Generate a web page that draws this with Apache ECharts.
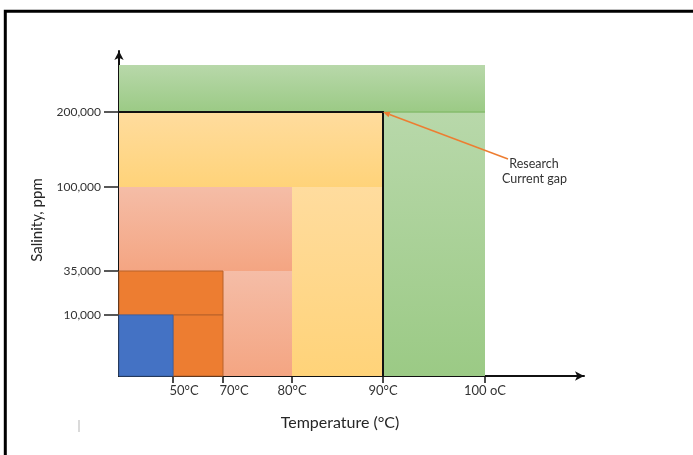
<!DOCTYPE html>
<html><head><meta charset="utf-8">
<script src="https://cdn.jsdelivr.net/npm/echarts@6/dist/echarts.min.js"></script>
<style>html,body{margin:0;padding:0;background:#fff}#c{width:693px;height:455px}</style>
</head><body><div id="c"></div>
<script>
// ---------------- data ----------------
const zoneNames = ['Blue', 'Orange', 'Salmon', 'Yellow', 'Green'];
const zoneMaxTemp = [50, 70, 80, 90, 100];                 // °C
const zoneMaxSalinity = [10000, 35000, 100000, 200000, 300000]; // ppm
const startTemp = 25;
const tempTicks = [50, 70, 80, 90, 100];
const tempTickLabels = ['50°C', '70°C', '80°C', '90°C', '100 oC'];
const salinityTicks = [10000, 35000, 100000, 200000];
const salinityTickLabels = ['10,000', '35,000', '100,000', '200,000'];
const gapPoint = [90, 200000];
const gapLabel = ['Research', 'Current gap'];

// ---------------- schematic (piecewise) axis scale ----------------
const xScaleVal = [startTemp, 50, 70, 80, 90, 100];
const xScaleUnit = [0, 54, 104, 173, 264, 366];
const yScaleVal = [0, 10000, 35000, 100000, 200000, 300000];
const yScaleUnit = [0, 61, 105, 189, 264, 311];
function piece(v, vals, units) {
  for (let i = 0; i < vals.length - 1; i++) {
    if (v <= vals[i + 1] || i === vals.length - 2) {
      const f = (v - vals[i]) / (vals[i + 1] - vals[i]);
      return units[i] + f * (units[i + 1] - units[i]);
    }
  }
}
const xu = v => piece(v, xScaleVal, xScaleUnit);
const yu = v => piece(v, yScaleVal, yScaleUnit);

// ---------------- styles ----------------
const zoneTop = ['#4472c4', '#ed7d31', '#f5bda7', '#ffdc9e', '#b8d8aa'];
const zoneBottom = ['#4472c4', '#ed7d31', '#f4a582', '#ffd379', '#9bca85'];
const zoneStroke = ['#3a62a8', '#b8622a', 'none', 'none', 'none'];

// zone parts: [tStart, tEnd, sStart, sEnd, zoneIndex]
const parts = [];
for (let i = zoneNames.length - 1; i >= 0; i--) {
  if (i === 0) {
    parts.push([startTemp, zoneMaxTemp[0], 0, zoneMaxSalinity[0], 0]);
  } else {
    parts.push([startTemp, zoneMaxTemp[i], zoneMaxSalinity[i - 1], zoneMaxSalinity[i], i]);
    parts.push([zoneMaxTemp[i - 1], zoneMaxTemp[i], 0, zoneMaxSalinity[i - 1], i]);
  }
}

const chart = echarts.init(document.getElementById('c'), null, {renderer: 'canvas'});
const FONT = 'Lato';

function renderZone(params, api) {
  const t0 = api.value(0), t1 = api.value(1), s0 = api.value(2), s1 = api.value(3), z = api.value(4);
  const p0 = api.coord([xu(t0), yu(s1)]);
  const p1 = api.coord([xu(t1), yu(s0)]);
  return {
    type: 'rect',
    shape: {x: p0[0], y: p0[1], width: p1[0] - p0[0], height: p1[1] - p0[1]},
    style: {
      fill: new echarts.graphic.LinearGradient(0, 0, 0, 1, [
        {offset: 0, color: zoneTop[z]}, {offset: 1, color: zoneBottom[z]}]),
      stroke: zoneStroke[z], lineWidth: 1
    }
  };
}

function renderGap(params, api) {
  const t = api.value(0), s = api.value(1);
  const corner = api.coord([xu(t), yu(s)]);
  const origin = api.coord([xu(startTemp), yu(0)]);
  const greenEnd = api.coord([xu(zoneMaxTemp[4]), yu(s)]);
  const start = [corner[0] + 125, corner[1] + 47];
  const dx = corner[0] - start[0], dy = corner[1] - start[1];
  const len = Math.sqrt(dx * dx + dy * dy), ux = dx / len, uy = dy / len;
  const hl = 7, hw = 3;
  const base = [corner[0] - ux * hl, corner[1] - uy * hl];
  return {
    type: 'group',
    children: [
      {type: 'line', shape: {x1: origin[0], y1: corner[1], x2: greenEnd[0], y2: corner[1]},
        style: {stroke: '#86bd6c', lineWidth: 1.5}},
      {type: 'polyline', shape: {points: [[origin[0], corner[1]], corner, [corner[0], origin[1]]]},
        style: {stroke: '#111', lineWidth: 2, fill: 'none'}},
      {type: 'line', shape: {x1: start[0], y1: start[1], x2: base[0], y2: base[1]},
        style: {stroke: '#ed7d31', lineWidth: 1.5}},
      {type: 'polygon', shape: {points: [corner,
        [base[0] - uy * hw, base[1] + ux * hw], [base[0] + uy * hw, base[1] - ux * hw]]},
        style: {fill: '#ed7d31'}},
      {type: 'text', x: corner[0] + 151, y: corner[1] + 52,
        style: {text: gapLabel[0], fill: '#333', font: '12.5px ' + FONT, align: 'center', verticalAlign: 'middle'}},
      {type: 'text', x: corner[0] + 151.5, y: corner[1] + 67,
        style: {text: gapLabel[1], fill: '#333', font: '12.5px ' + FONT, align: 'center', verticalAlign: 'middle'}}
    ]
  };
}

const xTickUnits = tempTicks.map(xu);
const yTickUnits = salinityTicks.map(yu);
const near = (a, b) => Math.abs(a - b) < 0.01;

chart.setOption({
  animation: false,
  backgroundColor: '#fff',
  grid: {left: 119, right: 109, top: 51, bottom: 79},
  xAxis: {
    type: 'value', min: 0, max: 465,
    splitLine: {show: false},
    axisLine: {show: true, lineStyle: {color: '#111', width: 2}, symbol: ['none', 'arrow'], symbolSize: [7, 9]},
    axisTick: {show: true, length: 7, lineStyle: {color: '#111', width: 1.5}, customValues: xTickUnits},
    axisLabel: {
      customValues: xTickUnits, margin: 8, color: '#333', fontFamily: FONT, fontSize: 13,
      formatter: v => {
        const i = xTickUnits.findIndex(u => near(u, v));
        if (i < 0) return '';
        return i < 2 ? '{s|' + tempTickLabels[i] + '}' : tempTickLabels[i];
      },
      rich: {s: {padding: [0, 0, 0, 22], color: '#333', fontFamily: FONT, fontSize: 13}}
    }
  },
  yAxis: {
    type: 'value', min: 0, max: 325,
    splitLine: {show: false},
    axisLine: {show: true, lineStyle: {color: '#111', width: 2}, symbol: ['none', 'arrow'], symbolSize: [7, 9]},
    axisTick: {show: true, length: 15, lineStyle: {color: '#222', width: 1.5}, customValues: yTickUnits},
    axisLabel: {
      customValues: yTickUnits, margin: 18, color: '#333', fontFamily: FONT, fontSize: 12,
      formatter: v => {
        const i = yTickUnits.findIndex(u => near(u, v));
        return i < 0 ? '' : salinityTickLabels[i];
      }
    }
  },
  series: [
    {type: 'custom', name: 'zones', renderItem: renderZone, data: parts, silent: true, clip: false, z: 1},
    {type: 'custom', name: 'gap', renderItem: renderGap, data: [gapPoint], silent: true, clip: false, z: 2}
  ],
  graphic: [
    {type: 'polyline', shape: {points: [[5.3, 460], [5.3, 11.3], [700, 11.3]]},
      style: {stroke: '#000', lineWidth: 3, fill: 'none'}, z: 100},
    {type: 'line', shape: {x1: 79, y1: 420, x2: 79, y2: 432}, style: {stroke: '#b5b5b5', lineWidth: 1}},
    {type: 'text', x: 340, y: 423,
      style: {text: 'Temperature (°C)', fill: '#262626', font: '16px ' + FONT, align: 'center', verticalAlign: 'middle'}},
    {type: 'text', x: 37, y: 220, rotation: Math.PI / 2,
      style: {text: 'Salinity, ppm', fill: '#262626', font: '15px ' + FONT, align: 'center', verticalAlign: 'middle'}}
  ]
});
</script>
</body></html>
